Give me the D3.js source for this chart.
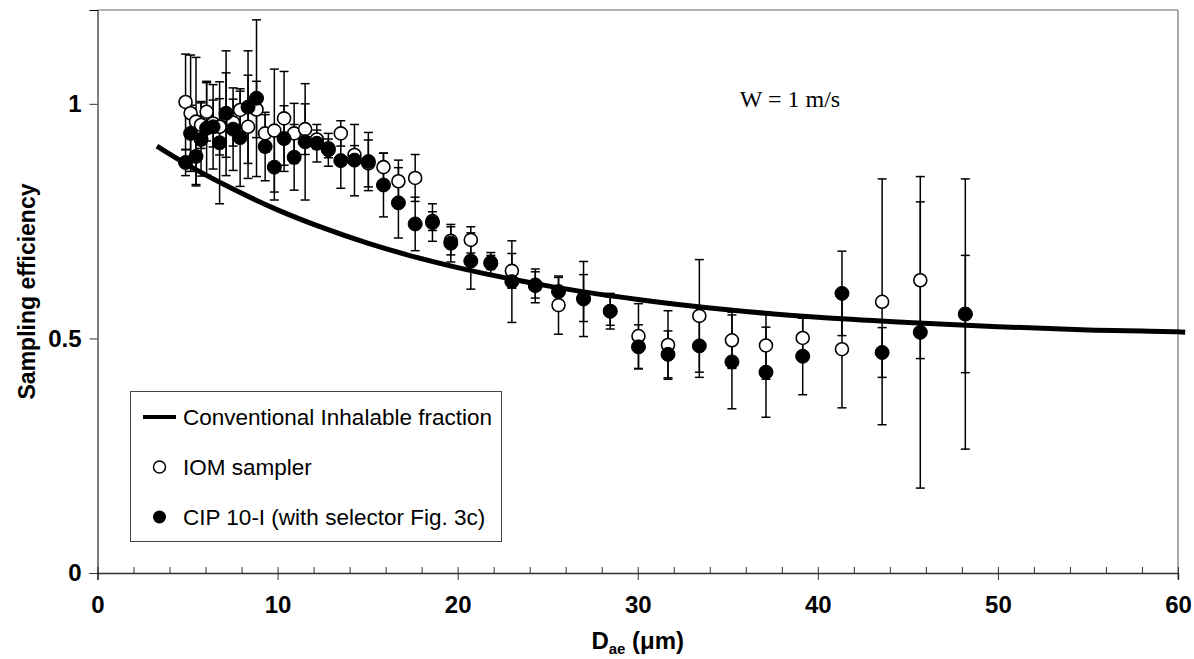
<!DOCTYPE html>
<html>
<head>
<meta charset="utf-8">
<script src="https://cdn.jsdelivr.net/npm/d3@7"></script>
<style>
  html, body { margin: 0; padding: 0; background: #fff; }
  svg { display: block; }
</style>
</head>
<body>
<svg id="chart" width="1194" height="659"></svg>
<script>
// ---- Data ----
const diameters = [4.89, 5.17, 5.47, 5.75, 6.06, 6.42, 6.78, 7.14, 7.53, 7.92, 8.36, 8.83, 9.31, 9.82, 10.36, 10.92, 11.53, 12.18, 12.82, 13.51, 14.27, 15.04, 15.88, 16.71, 17.64, 18.60, 19.62, 20.73, 21.84, 23.01, 24.31, 25.60, 26.99, 28.47, 30.04, 31.68, 33.42, 35.23, 37.12, 39.16, 41.34, 43.57, 45.69, 48.19];

const iomValues = [1.004, 0.980, 0.962, 0.955, 0.983, 0.958, 0.951, 0.976, 0.960, 0.987, 0.951, 0.988, 0.937, 0.943, 0.969, 0.937, 0.946, 0.924, 0.905, 0.937, 0.891, 0.873, 0.865, 0.835, 0.842, 0.750, 0.708, 0.710, 0.662, 0.644, 0.612, 0.571, 0.586, 0.558, 0.505, 0.486, 0.548, 0.496, 0.485, 0.501, 0.477, 0.578, 0.624, 0.552];
const iomErrors = [0.102, 0.124, 0.137, 0.050, 0.062, 0.050, 0.060, 0.090, 0.050, 0.040, 0.110, 0.060, 0.040, 0.131, 0.100, 0.064, 0.054, 0.020, 0.020, 0.027, 0.020, 0.050, 0.030, 0.045, 0.050, 0.020, 0.030, 0.028, 0.015, 0.037, 0.036, 0.062, 0.050, 0.030, 0.069, 0.073, 0.120, 0.060, 0.072, 0.042, 0.125, 0.262, 0.167, 0.125];

const cipValues = [0.875, 0.937, 0.888, 0.924, 0.948, 0.951, 0.917, 0.980, 0.946, 0.928, 0.993, 1.012, 0.909, 0.865, 0.926, 0.886, 0.919, 0.916, 0.902, 0.879, 0.880, 0.877, 0.827, 0.789, 0.744, 0.747, 0.703, 0.665, 0.660, 0.621, 0.614, 0.600, 0.584, 0.558, 0.482, 0.466, 0.484, 0.450, 0.428, 0.462, 0.596, 0.470, 0.513, 0.552];
const cipErrors = [0.028, 0.060, 0.060, 0.078, 0.100, 0.090, 0.130, 0.133, 0.088, 0.104, 0.120, 0.167, 0.073, 0.070, 0.070, 0.070, 0.124, 0.040, 0.035, 0.059, 0.076, 0.062, 0.068, 0.075, 0.057, 0.040, 0.040, 0.060, 0.023, 0.087, 0.028, 0.030, 0.080, 0.038, 0.047, 0.050, 0.067, 0.100, 0.096, 0.082, 0.090, 0.053, 0.332, 0.288];

// Conventional inhalable fraction curve
const curveDiameters = [3.3, 5, 7.5, 10, 12.5, 15, 17.5, 20, 25, 30, 35, 40, 45, 50, 55, 60, 60.4];
const curveValues = [0.910, 0.870, 0.819, 0.774, 0.736, 0.703, 0.675, 0.651, 0.612, 0.583, 0.561, 0.545, 0.534, 0.525, 0.518, 0.514, 0.513];

const xMajorTicks = [0, 10, 20, 30, 40, 50, 60];
const xMinorTicks = [2, 4, 6, 8, 12, 14, 16, 18, 22, 24, 26, 28, 32, 34, 36, 38, 42, 44, 46, 48, 52, 54, 56, 58];
const yTicks = [0, 0.5, 1];
const yTickLabels = ["0", "0.5", "1"];

const legendLabels = ["Conventional Inhalable fraction", "IOM sampler", "CIP 10-I (with selector Fig. 3c)"];
const annotation = "W = 1 m/s";

// ---- Layout ----
const svg = d3.select("#chart");
const plotL = 97.5, plotR = 1178, plotT = 10, plotB = 573;

const x = d3.scaleLinear().domain([0, 60]).range([plotL, plotR]);
const y = d3.scaleLinear().domain([0, 1.2]).range([plotB, plotT]);

const sans = "'Liberation Sans', Arial, Helvetica, sans-serif";
const serif = "'Liberation Serif', 'Times New Roman', serif";

// plot frame (top & right)
svg.append("line").attr("x1", plotL).attr("x2", plotR).attr("y1", plotT).attr("y2", plotT)
  .attr("stroke", "#666").attr("stroke-width", 1);
svg.append("line").attr("x1", plotR).attr("x2", plotR).attr("y1", plotT).attr("y2", plotB + 6)
  .attr("stroke", "#555").attr("stroke-width", 1);

// x axis minor ticks (inside)
const xMinor = svg.append("g").attr("transform", `translate(0,${plotB})`)
  .call(d3.axisBottom(x).tickValues(xMinorTicks).tickSize(-6).tickFormat(""));
xMinor.select(".domain").remove();
xMinor.selectAll("line").attr("stroke", "#333").attr("stroke-width", 1);

// x axis major ticks (crossing)
const xAxis = svg.append("g").attr("transform", `translate(0,${plotB})`)
  .call(d3.axisBottom(x).tickValues(xMajorTicks).tickSize(7).tickPadding(16).tickFormat(d3.format("d")));
xAxis.select(".domain").attr("stroke", "#333").attr("stroke-width", 1.5);
xAxis.selectAll(".tick line").attr("y1", -6).attr("stroke", "#333").attr("stroke-width", 1);
xAxis.selectAll("text").attr("font-family", sans).attr("font-weight", "bold")
  .attr("font-size", 24).attr("fill", "#000");

// y axis
const yAxis = svg.append("g").attr("transform", `translate(${plotL},0)`)
  .call(d3.axisLeft(y).tickValues(yTicks).tickSize(8).tickPadding(8)
    .tickFormat((d, i) => yTickLabels[i]));
yAxis.select(".domain").attr("stroke", "#000").attr("stroke-width", 1);
yAxis.selectAll(".tick line").attr("stroke", "#333").attr("stroke-width", 1);
yAxis.selectAll("text").attr("font-family", sans).attr("font-weight", "bold")
  .attr("font-size", 24).attr("fill", "#000");

// axis titles
svg.append("text")
  .attr("transform", `translate(35,${(plotT + plotB) / 2}) rotate(-90)`)
  .attr("text-anchor", "middle")
  .attr("font-family", sans).attr("font-weight", "bold").attr("font-size", 23)
  .text("Sampling efficiency");

const xt = svg.append("text")
  .attr("x", (plotL + plotR) / 2).attr("y", 649)
  .attr("text-anchor", "middle")
  .attr("font-family", sans).attr("font-weight", "bold").attr("font-size", 24);
xt.append("tspan").text("D");
xt.append("tspan").attr("font-size", 15).attr("dy", 5).text("ae");
xt.append("tspan").attr("dy", -5).text(" (\u03bcm)");

// curve
const curveData = curveDiameters.map((d, i) => ({ d, v: curveValues[i] }));
svg.append("path").datum(curveData)
  .attr("fill", "none").attr("stroke", "#000").attr("stroke-width", 5)
  .attr("d", d3.line().x(p => x(p.d)).y(p => y(p.v)).curve(d3.curveMonotoneX));

// series data
const iom = diameters.map((d, i) => ({ d, v: iomValues[i], e: iomErrors[i] }));
const cip = diameters.map((d, i) => ({ d, v: cipValues[i], e: cipErrors[i] }));
const capW = 4.5;

function drawBars(data) {
  const g = svg.append("g").attr("stroke", "#000").attr("stroke-width", 1.5);
  data.forEach(p => {
    const cx = x(p.d), yt = y(p.v + p.e), yb = y(p.v - p.e);
    g.append("line").attr("x1", cx).attr("x2", cx).attr("y1", yt).attr("y2", yb);
    g.append("line").attr("x1", cx - capW).attr("x2", cx + capW).attr("y1", yt).attr("y2", yt);
    g.append("line").attr("x1", cx - capW).attr("x2", cx + capW).attr("y1", yb).attr("y2", yb);
  });
}
drawBars(iom);
drawBars(cip);

svg.append("g").selectAll("circle").data(iom).join("circle")
  .attr("cx", p => x(p.d)).attr("cy", p => y(p.v)).attr("r", 6.5)
  .attr("fill", "#fff").attr("stroke", "#000").attr("stroke-width", 1.6);
svg.append("g").selectAll("circle").data(cip).join("circle")
  .attr("cx", p => x(p.d)).attr("cy", p => y(p.v)).attr("r", 7)
  .attr("fill", "#000").attr("stroke", "#000").attr("stroke-width", 1);

// annotation
svg.append("text").attr("x", 790).attr("y", 107).attr("text-anchor", "middle")
  .attr("font-family", serif).attr("font-size", 24).text(annotation);

// legend
const lg = svg.append("g");
lg.append("rect").attr("x", 130.5).attr("y", 391.5).attr("width", 371).attr("height", 150)
  .attr("fill", "#fff").attr("stroke", "#444").attr("stroke-width", 1);
const rowY = [417, 467, 517];
lg.append("line").attr("x1", 143).attr("x2", 176).attr("y1", rowY[0]).attr("y2", rowY[0])
  .attr("stroke", "#000").attr("stroke-width", 4);
lg.append("circle").attr("cx", 159.5).attr("cy", rowY[1]).attr("r", 6)
  .attr("fill", "#fff").attr("stroke", "#000").attr("stroke-width", 1.5);
lg.append("circle").attr("cx", 159.5).attr("cy", rowY[2]).attr("r", 6.5).attr("fill", "#000");
legendLabels.forEach((t, i) => {
  lg.append("text").attr("x", 183).attr("y", rowY[i]).attr("dy", "0.36em")
    .attr("font-family", sans).attr("font-size", 22.5).attr("fill", "#000").text(t);
});
</script>
</body>
</html>
